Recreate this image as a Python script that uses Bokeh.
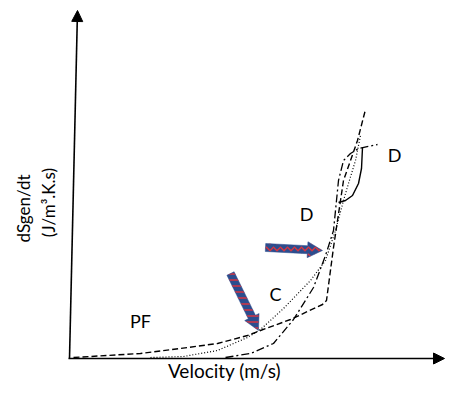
import numpy as np
from bokeh.plotting import figure
from bokeh.models import Range1d, Arrow, NormalHead
from bokeh.core.properties import value
from bokeh.embed import file_html
from bokeh.resources import INLINE

# Schematic data (velocity, entropy-generation rate), arbitrary units
pf_v = [3, 70, 110, 147, 177, 190, 220, 252, 256, 263, 270, 273, 280, 287, 295]
pf_r = [1, 5, 10, 15, 23, 28, 39, 54, 58, 111, 158, 178, 198, 218, 249]

c_v = [80, 113, 147, 170, 177, 190, 213, 240, 255, 265, 273, 278, 285, 290]
c_r = [1, 2, 8, 18, 21, 29, 50, 78, 98, 128, 158, 175, 198, 223]

d1_v = [155, 180, 203, 223, 243, 255, 263, 266, 268, 273, 280, 288, 307]
d1_r = [1, 5, 15, 39, 71, 103, 128, 158, 178, 198, 205, 210, 214]

d2_v = [268, 275, 282, 288, 291, 292]
d2_r = [156, 158, 163, 175, 190, 211]

# Labels
lab_v = [70, 205, 236, 324]
lab_r = [38, 65, 145, 204]
lab_t = ["PF", "C", "D", "D"]

# Highlight arrows (start -> end)
arr_v0 = [195, 160]
arr_r0 = [111, 85]
arr_v1 = [252, 188]
arr_r1 = [108, 28]

p = figure(width=446, height=381, output_backend="svg", toolbar_location=None,
           x_axis_type=None, y_axis_type=None, min_border=0,
           x_range=Range1d(-70, 376), y_range=Range1d(-23, 358))
p.grid.visible = False
p.outline_line_color = None
p.background_fill_color = "white"

# axes drawn as arrows
p.add_layout(Arrow(x_start=-2, y_start=0, x_end=374, y_end=0, line_width=1.6,
                   line_color="black",
                   end=NormalHead(size=11, fill_color="black", line_color="black")))
p.add_layout(Arrow(x_start=-1, y_start=0, x_end=7, y_end=348, line_width=1.6,
                   line_color="black",
                   end=NormalHead(size=11, fill_color="black", line_color="black")))

p.line(pf_v, pf_r, line_color="black", line_width=1.4, line_dash="6 3")
p.line(c_v, c_r, line_color="black", line_width=1.2, line_dash="1 2")
p.line(d1_v, d1_r, line_color="black", line_width=1.3, line_dash="8 3 2 3")
p.line(d2_v, d2_r, line_color="black", line_width=1.4)

# fat striped arrows
xs, ys = [], []
for sx, sy, ex, ey in zip(arr_v0, arr_r0, arr_v1, arr_r1):
    S = np.array([sx, sy], float)
    E = np.array([ex, ey], float)
    u = (E - S) / np.linalg.norm(E - S)
    n = np.array([-u[1], u[0]])
    w, h, L = 4.0, 8.0, 15.0
    B = E - u * L
    pts = [S + n * w, B + n * w, B + n * h, E, B - n * h, B - n * w, S - n * w]
    xs.append([q[0] for q in pts])
    ys.append([q[1] for q in pts])
p.patches(xs[:1], ys[:1], fill_color="#2c4d8e", line_color="#2c4d8e", line_width=0.5,
          hatch_pattern="horizontal_wave", hatch_color="#d8343f", hatch_scale=7, hatch_weight=1.5)
p.patches(xs[1:], ys[1:], fill_color="#2c4d8e", line_color="#2c4d8e", line_width=0.5,
          hatch_pattern="horizontal_line", hatch_color="#d8343f", hatch_scale=6, hatch_weight=1.5)

p.text(lab_v, lab_r, text=lab_t, text_align="center", text_baseline="middle",
       text_font=value("Lato"), text_font_size="18px", text_color="black")

p.text([154], [-12], text=["Velocity (m/s)"], text_align="center", text_baseline="middle",
       text_font=value("Lato"), text_font_size="19px", text_color="black")
p.text([-47, -22], [150, 156], text=["dSgen/dt", "(J/m³.K.s)"], angle=np.pi / 2,
       text_align="center", text_baseline="middle",
       text_font=value("Lato"), text_font_size="17px", text_color="black")

open("out.html", "w").write(file_html(p, INLINE))
